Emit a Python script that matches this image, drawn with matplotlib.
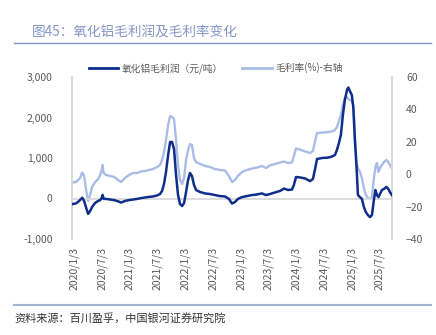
import matplotlib
matplotlib.use("Agg")
import matplotlib.pyplot as plt
from matplotlib.ticker import FuncFormatter
from matplotlib.lines import Line2D
import pandas as pd

plt.rcParams['font.family'] = ['Noto Sans CJK SC', 'DejaVu Sans']

# data
dates = [
    "2019-12-21", "2020-01-16", "2020-02-11", "2020-02-25", "2020-03-09", "2020-03-22",
    "2020-04-04", "2020-04-17", "2020-04-30", "2020-05-20", "2020-06-09", "2020-06-22",
    "2020-07-02", "2020-07-08", "2020-07-15", "2020-07-31", "2020-08-27", "2020-09-22",
    "2020-10-18", "2020-11-07", "2020-12-03", "2020-12-29", "2021-01-25", "2021-02-20",
    "2021-03-18", "2021-04-13", "2021-05-10", "2021-06-05", "2021-07-01", "2021-07-21",
    "2021-08-03", "2021-08-16", "2021-08-29", "2021-09-12", "2021-09-25", "2021-10-08",
    "2021-10-21", "2021-11-03", "2021-11-16", "2021-11-29", "2021-12-13", "2021-12-26",
    "2022-01-08", "2022-01-21", "2022-02-03", "2022-02-16", "2022-03-01", "2022-03-15",
    "2022-04-10", "2022-05-13", "2022-06-15", "2022-07-17", "2022-08-19", "2022-09-21",
    "2022-10-17", "2022-11-06", "2022-11-26", "2022-12-15", "2023-01-11", "2023-02-13",
    "2023-03-17", "2023-04-19", "2023-05-22", "2023-06-17", "2023-07-14", "2023-08-16",
    "2023-09-17", "2023-10-14", "2023-11-09", "2023-12-05", "2023-12-18", "2024-01-01",
    "2024-01-27", "2024-02-29", "2024-04-02", "2024-04-21", "2024-05-04", "2024-05-18",
    "2024-06-19", "2024-07-29", "2024-08-24", "2024-09-13", "2024-09-26", "2024-10-09",
    "2024-10-22", "2024-11-04", "2024-11-17", "2024-12-01", "2024-12-10", "2024-12-20",
    "2025-01-02", "2025-01-12", "2025-01-22", "2025-02-01", "2025-02-11", "2025-02-24",
    "2025-03-09", "2025-03-22", "2025-04-04", "2025-04-18", "2025-05-01", "2025-05-14",
    "2025-05-27", "2025-06-06", "2025-06-16", "2025-06-26", "2025-07-09", "2025-07-19",
    "2025-08-01", "2025-08-17", "2025-08-30", "2025-09-09", "2025-09-22",
]

profit = [
    -140, -120, -40, 20, -60, -230,
    -380, -310, -210, -110, -60, -40,
    10, 90, -10, -10, -25, -40,
    -70, -100, -60, -40, -25, -10,
    10, 25, 40, 50, 75, 110,
    185, 360, 655, 1075, 1395, 1395,
    1220, 580, 90, -135, -185, -110,
    160, 455, 630, 555, 335, 210,
    160, 125, 110, 85, 60, 50,
    -10, -125, -85, -10, 35, 60,
    85, 100, 125, 85, 110, 150,
    185, 245, 210, 220, 335, 530,
    520, 495, 430, 480, 705, 975,
    1000, 1010, 1035, 1075, 1200, 1370,
    1570, 2060, 2430, 2680, 2740, 2655,
    2555, 2230, 1445, 830, 85, 35,
    -10, -210, -335, -410, -460, -410,
    -35, 210, 85, 35, 135, 210,
    235, 285, 235, 160, 85,
]

margin = [
    -5.2, -4.8, -2.3, 1.0, -1.1, -9.8,
    -16.5, -12.8, -7.9, -4.8, -3.0, -0.5,
    2.6, 5.7, 0.7, -0.5, -1.1, -1.7,
    -3.6, -4.8, -2.3, -0.5, 0.7, 0.7,
    1.7, 2.0, 2.6, 3.2, 4.4, 5.7,
    8.8, 13.7, 21.1, 30.4, 35.9, 35.3,
    34.1, 21.1, 5.7, -3.6, -6.0, -2.3,
    8.8, 14.9, 18.6, 18.0, 10.0, 7.5,
    6.3, 5.1, 4.4, 3.2, 2.6, 2.3,
    -1.1, -4.8, -3.6, -1.1, 1.4, 2.6,
    3.5, 4.1, 5.1, 3.8, 5.4, 6.3,
    7.2, 7.8, 6.9, 7.2, 11.2, 15.9,
    15.2, 14.0, 13.1, 14.3, 19.9, 25.4,
    25.7, 26.0, 26.4, 27.3, 29.1, 32.8,
    36.5, 42.7, 47.0, 47.7, 46.4, 45.8,
    45.2, 42.7, 23.0, 7.5, 3.8, 1.4,
    -2.3, -8.5, -12.8, -14.7, -15.3, -14.1,
    -2.3, 4.4, 6.9, 1.4, 4.4, 5.7,
    7.5, 8.8, 7.5, 5.7, 3.5,
]

tick_dates = ["2020-01-03", "2020-07-03", "2021-01-03", "2021-07-03", "2022-01-03", "2022-07-03",
              "2023-01-03", "2023-07-03", "2024-01-03", "2024-07-03", "2025-01-03", "2025-07-03"]
tick_labels = ["2020/1/3", "2020/7/3", "2021/1/3", "2021/7/3", "2022/1/3", "2022/7/3",
               "2023/1/3", "2023/7/3", "2024/1/3", "2024/7/3", "2025/1/3", "2025/7/3"]

dark = "#0F2E8C"
light = "#A9BCE6"
grey = "#595959"

x = pd.to_datetime(dates)

fig = plt.figure(figsize=(4.36, 3.35), dpi=100)
ax = fig.add_axes([72 / 436, 1 - 239 / 335, 320 / 436, 162 / 335])
ax2 = ax.twinx()
ax.set_zorder(ax2.get_zorder() + 1)
ax.patch.set_visible(False)

ax.axhline(0, color="#D9D9D9", lw=1.3, zorder=1)
ax.plot(x, profit, color=dark, lw=1.8, zorder=3)
ax2.plot(x, margin, color=light, lw=1.7)

ax.set_ylim(-1000, 3000)
ax.set_yticks([-1000, 0, 1000, 2000, 3000])
ax.yaxis.set_major_formatter(FuncFormatter(lambda v, p: f"{v:,.0f}"))
ax2.set_ylim(-40, 60)
ax2.set_yticks([-40, -20, 0, 20, 40, 60])

ax.set_xlim(pd.Timestamp("2019-12-20"), pd.Timestamp("2025-09-23"))
ax.set_xticks(pd.to_datetime(tick_dates))
ax.set_xticklabels(tick_labels, rotation=90)

for a in (ax, ax2):
    for s in ("top", "bottom"):
        a.spines[s].set_visible(False)
    for s in ("left", "right"):
        a.spines[s].set_color("#D9D9D9")
        a.spines[s].set_linewidth(1.2)
    a.tick_params(length=0, labelsize=7.5, labelcolor=grey)
ax.tick_params(axis="y", pad=14)
ax2.tick_params(axis="y", pad=10)
ax.tick_params(axis="x", pad=6)

handles = [Line2D([], [], color=dark, lw=2), Line2D([], [], color=light, lw=2)]
fig.legend(handles, ["氧化铝毛利润（元/吨）", "毛利率(%)-右轴"], loc="center",
           bbox_to_anchor=(0.495, 1 - 68 / 335), ncol=2, frameon=False, fontsize=7,
           handlelength=3.0, columnspacing=2.0, handletextpad=0.4, labelcolor=grey)

# header and footer
fig.text(32 / 436, 1 - 33 / 335, "图45：氧化铝毛利润及毛利率变化", color="#8496C6",
         fontsize=9.8, va="center", ha="left")
fig.add_artist(Line2D([14 / 436, 431 / 436], [1 - 43 / 335, 1 - 43 / 335], color="#7F92C4", lw=1.0))
fig.add_artist(Line2D([14 / 436, 431 / 436], [1 - 305 / 335, 1 - 305 / 335], color="#A4B2D4", lw=1.5))
fig.text(14 / 436, 1 - 318 / 335, "资料来源：百川盈孚，中国银河证券研究院", color="#333333",
         fontsize=8, va="center", ha="left", style="italic")

fig.savefig("out.png", dpi=100)
